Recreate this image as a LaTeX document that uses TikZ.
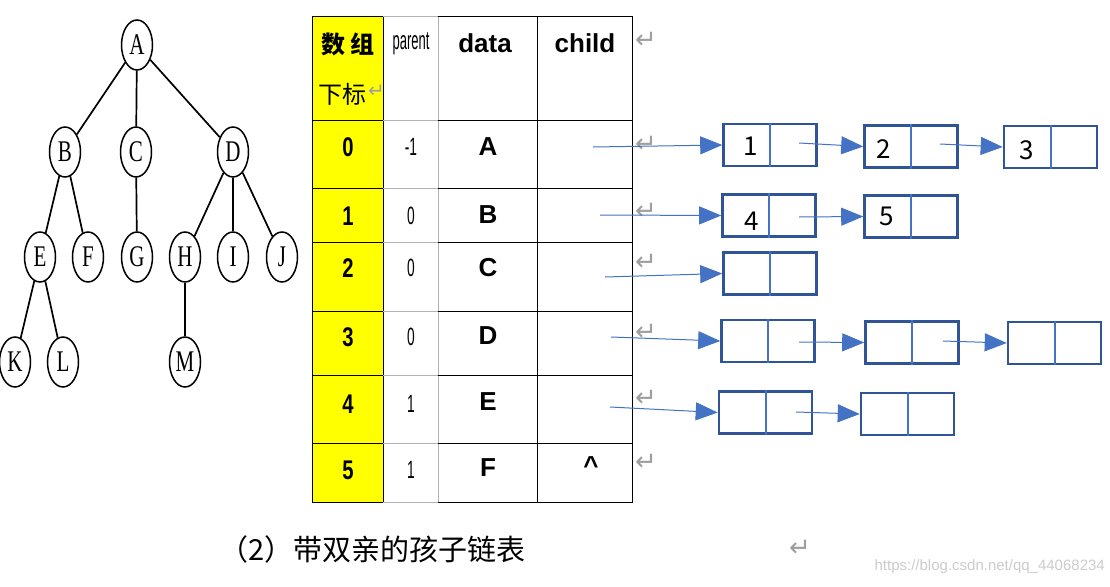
\documentclass[tikz,border=0pt]{standalone}
\usepackage{fontspec}
\setmainfont{Liberation Serif}
\newfontfamily\cjk{Noto Sans CJK SC}
\newfontfamily\sansf{Liberation Sans}
\newfontfamily\dvs{DejaVu Sans}
\usetikzlibrary{shapes.geometric,arrows.meta}
\definecolor{boxblue}{HTML}{2F5597}
\definecolor{lineblue}{HTML}{4472C4}
\definecolor{hlyellow}{HTML}{FFFF00}
\newcommand\narrow[2]{\scalebox{#1}[1]{#2}}
\tikzset{
  tn/.style={ellipse, draw, line width=1.5pt, minimum width=31pt, minimum height=50pt, inner sep=0pt, font=\fontsize{30}{30}\selectfont},
  tedge/.style={line width=1.7pt},
  tline/.style={line width=1pt, black},
  gline/.style={line width=1pt, gray!60},
  idx/.style={font=\sansf\bfseries\fontsize{27}{27}\selectfont},
  par/.style={font=\sansf\fontsize{25}{25}\selectfont},
  dat/.style={font=\sansf\bfseries\fontsize{26}{26}\selectfont},
  ret/.style={font=\dvs\fontsize{26}{26}\selectfont, text=gray!75},
  lbox/.style={rectangle, draw=boxblue, line width=2.6pt, minimum width=93pt, minimum height=42pt, inner sep=0pt},
  divider/.style={draw=lineblue, line width=2pt},
  num/.style={font=\cjk\fontsize{26}{26}\selectfont},
  arr/.style={draw=lineblue, line width=1pt, -{Triangle[length=22pt,width=18pt,fill=lineblue]}}
}
\begin{document}
\begin{tikzpicture}[x=1pt,y=-1pt]
\useasboundingbox (0,0) rectangle (1110,586);
\fill[white] (0,0) rectangle (1110,586);
% ---------- tree ----------
\node[tn] (A) at (137,45) {\narrow{0.7}{A}};
\node[tn] (B) at (65,152) {\narrow{0.7}{B}};
\node[tn] (C) at (136,152) {\narrow{0.7}{C}};
\node[tn] (D) at (233,152) {\narrow{0.7}{D}};
\node[tn] (E) at (40,257) {\narrow{0.7}{E}};
\node[tn] (F) at (88,257) {\narrow{0.7}{F}};
\node[tn] (G) at (137,257) {\narrow{0.7}{G}};
\node[tn] (H) at (185,257) {\narrow{0.7}{H}};
\node[tn] (I) at (233,257) {\narrow{0.7}{I}};
\node[tn] (J) at (282,257) {\narrow{0.7}{J}};
\node[tn] (K) at (15,362) {\narrow{0.7}{K}};
\node[tn] (L) at (63,362) {\narrow{0.7}{L}};
\node[tn] (M) at (185,362) {\narrow{0.7}{M}};
\draw[tedge] (A) -- (B);
\draw[tedge] (A) -- (C);
\draw[tedge] (A) -- (D);
\draw[tedge] (B) -- (E);
\draw[tedge] (B) -- (F);
\draw[tedge] (C) -- (G);
\draw[tedge] (D) -- (H);
\draw[tedge] (D) -- (I);
\draw[tedge] (D) -- (J);
\draw[tedge] (E) -- (K);
\draw[tedge] (E) -- (L);
\draw[tedge] (H) -- (M);
% ---------- table ----------
\fill[hlyellow] (312,17) rectangle (383,502);
\draw[tline] (312,17) rectangle (383,502);
\foreach \yy in {120,188,242,311,375,443} {\draw[tline] (312,\yy) -- (383,\yy);}
\foreach \yy in {17,120,188,242,311,375,443,502} {\draw[gline] (383,\yy) -- (438,\yy);}
\draw[gline] (438,17) -- (438,502);
\draw[tline] (438,17) -- (632,17) -- (632,502) -- (438,502);
\draw[tline] (537,17) -- (537,502);
\foreach \yy in {120,188,242,311,375,443} {\draw[tline] (438,\yy) -- (632,\yy);}
% header
\node[font=\cjk\bfseries\fontsize{24}{24}\selectfont] (h1) at (348,44) {数\hspace{5pt}组};
\node[font=\cjk\fontsize{24}{24}\selectfont, inner sep=0pt, anchor=east] (h2) at (367,94) {下标};
\node[ret, font=\dvs\fontsize{20}{20}\selectfont, inner sep=0pt, anchor=west] (r0) at (368,91) {↵};
\node[font=\sansf\fontsize{26}{26}\selectfont] (hp) at (411,44) {\narrow{0.5}{parent}};
\node[dat] (hd) at (485,43) {data};
\node[dat] (hc) at (585,43) {child};
% rows
\node[idx] (i0) at (348,147) {\narrow{0.75}{0}};
\node[idx] (i1) at (348,216) {\narrow{0.75}{1}};
\node[idx] (i2) at (348,268) {\narrow{0.75}{2}};
\node[idx] (i3) at (348,337) {\narrow{0.75}{3}};
\node[idx] (i4) at (348,404) {\narrow{0.75}{4}};
\node[idx] (i5) at (348,470) {\narrow{0.75}{5}};
\node[par] (p0) at (411,147) {\narrow{0.55}{-1}};
\node[par] (p1) at (411,216) {\narrow{0.55}{0}};
\node[par] (p2) at (411,268) {\narrow{0.55}{0}};
\node[par] (p3) at (411,337) {\narrow{0.55}{0}};
\node[par] (p4) at (411,404) {\narrow{0.55}{1}};
\node[par] (p5) at (411,470) {\narrow{0.55}{1}};
\node[dat] (d0) at (488,147) {A};
\node[dat] (d1) at (488,215) {B};
\node[dat] (d2) at (488,268) {C};
\node[dat] (d3) at (488,336) {D};
\node[dat] (d4) at (488,402) {E};
\node[dat] (d5) at (488,468) {F};
\node[dat] (c5) at (591,466) {\symbol{94}};
% return marks
\node[ret] (r1) at (646,40) {↵};
\node[ret] (r2) at (646,144) {↵};
\node[ret] (r3) at (646,211) {↵};
\node[ret] (r4) at (646,262) {↵};
\node[ret] (r5) at (646,332) {↵};
\node[ret] (r6) at (646,398) {↵};
\node[ret] (r7) at (646,462) {↵};
% ---------- linked lists ----------
\node[lbox] (b1) at (770,145) {};
\node[lbox] (b2) at (911,146.5) {};
\node[lbox] (b3) at (1050.5,147) {};
\node[lbox] (b4) at (769,215.5) {};
\node[lbox] (b5) at (911,216.5) {};
\node[lbox] (b6) at (770,273.5) {};
\node[lbox] (b7) at (768,341) {};
\node[lbox] (b8) at (912,342.5) {};
\node[lbox] (b9) at (1054.5,343) {};
\node[lbox] (b10) at (765.5,412.5) {};
\node[lbox] (b11) at (907.5,414) {};
\foreach \b in {b1,b2,b3,b4,b5,b6,b7,b8,b9,b10,b11} {\draw[divider] (\b.north) -- (\b.south);}
\node[num] (n1) at (751,146) {1};
\node[num] (n2) at (884,149) {2};
\node[num] (n3) at (1027,150) {3};
\node[num] (n4) at (752,221) {4};
\node[num] (n5) at (887,216) {5};
\coordinate (t0) at (593,147);
\coordinate (t1) at (600,215);
\coordinate (t2) at (605,277);
\coordinate (t3) at (611,337);
\coordinate (t4) at (610,407);
\coordinate (s1) at (799,143);
\coordinate (s2) at (940,144);
\coordinate (s4) at (799,217);
\coordinate (s7) at (799,342);
\coordinate (s8) at (943,341);
\coordinate (s10) at (796,412);
\draw[arr] (t0) -- (b1.west);
\draw[arr] (t1) -- (b4.west);
\draw[arr] (t2) -- (b6.west);
\draw[arr] (t3) -- (b7.west);
\draw[arr] (t4) -- (b10.west);
\draw[arr] (s1) -- (b2.west);
\draw[arr] (s2) -- (b3.west);
\draw[arr] (s4) -- (b5.west);
\draw[arr] (s7) -- (b8.west);
\draw[arr] (s8) -- (b9.west);
\draw[arr] (s10) -- (b11.west);
% ---------- caption ----------
\node[anchor=west, font=\cjk\fontsize{29}{29}\selectfont, inner sep=0pt] (cap) at (219,549) {（2）带双亲的孩子链表};
\node[ret] (r8) at (800,548) {↵};
\node[anchor=east, font=\sansf\fontsize{15}{15}\selectfont, text=gray!40, inner sep=0pt] (wm) at (1105,567) {https://blog.csdn.net/qq\_44068234};
\end{tikzpicture}
\end{document}
